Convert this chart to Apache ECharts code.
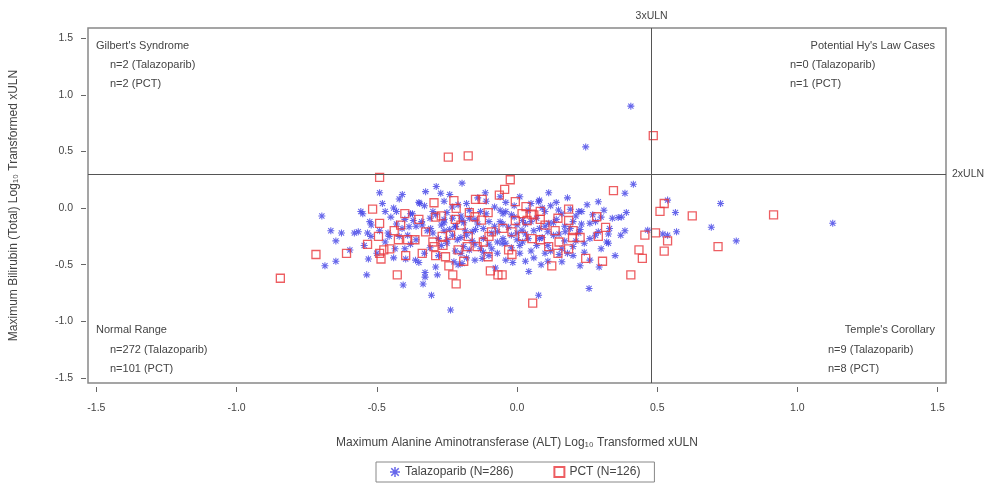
<!DOCTYPE html>
<html>
<head>
<meta charset="utf-8">
<script src="https://cdn.jsdelivr.net/npm/echarts@6/dist/echarts.min.js"></script>
<style>html,body{margin:0;padding:0;background:#fff;}#c{width:996px;height:484px;}</style>
</head>
<body>
<div id="c"></div>
<script>
const xTicks = [-1.5, -1.0, -0.5, 0.0, 0.5, 1.0, 1.5];
const yTicks = [-1.5, -1.0, -0.5, 0.0, 0.5, 1.0, 1.5];
const refX = 0.477;  // 3xULN
const refY = 0.301;  // 2xULN
const seriesNames = ['Talazoparib (N=286)', 'PCT (N=126)'];

const talazoparib = [
  [-0.696,-0.07],[-0.664,-0.20],[-0.626,-0.22],[-0.646,-0.29],[-0.646,-0.47],[-0.685,-0.51],[-0.596,-0.37],[-0.536,-0.59],
  [-0.557,-0.03],[-0.525,-0.12],[-0.566,-0.21],[-0.533,-0.22],[-0.521,-0.25],[-0.545,-0.33],[-0.49,0.135],[-0.49,-0.20],
  [-0.196,0.22],[-0.288,0.19],[-0.326,0.145],[-0.409,0.12],[-0.272,0.13],[-0.113,0.135],[-0.347,0.04],[-0.231,0.01],
  [-0.47,-0.03],[-0.43,-0.03],[-0.373,-0.05],[-0.06,-0.02],[-0.196,-0.106],[-0.26,-0.13],[-0.385,-0.165],[-0.338,-0.15],
  [-0.308,-0.18],[-0.219,-0.165],[-0.148,-0.19],[-0.184,-0.20],[-0.456,-0.25],[-0.42,-0.25],[-0.249,-0.28],[-0.213,-0.28],
  [-0.435,-0.36],[-0.17,-0.37],[-0.362,-0.46],[-0.397,-0.45],[-0.225,-0.475],[-0.124,-0.445],[-0.328,-0.57],[-0.328,-0.61],
  [-0.284,-0.59],[-0.406,-0.68],[-0.335,-0.67],[-0.305,-0.77],[-0.237,-0.90],[-0.196,-0.49],[-0.077,-0.53],
  [0.245,0.54],[0.113,0.135],[0.29,0.056],[0.077,0.056],[0.148,-0.018],[0.231,-0.03],[-0.04,-0.03],[0.361,-0.083],
  [0.26,-0.135],[0.113,-0.135],[0.225,-0.19],[0.018,-0.195],[0.172,-0.21],[0.326,-0.23],[0.326,-0.31],[0.0,-0.28],
  [-0.053,-0.31],[0.10,-0.40],[0.2,-0.42],[0.03,-0.47],[-0.015,-0.48],[0.16,-0.475],[0.086,-0.50],[0.225,-0.51],
  [0.293,-0.52],[0.042,-0.56],[0.257,-0.71],[0.077,-0.77],
  [0.406,0.90],[0.415,0.21],[0.385,0.13],[0.537,0.07],[0.726,0.04],[0.565,-0.04],[0.373,-0.08],[0.693,-0.17],
  [0.385,-0.20],[0.466,-0.195],[0.569,-0.21],[0.537,-0.24],[0.782,-0.29],[1.126,-0.135],[0.52,-0.23],
  [-0.45,-0.08],[-0.41,-0.18],[-0.38,-0.05],[-0.36,-0.28],[-0.34,-0.12],[-0.33,0.02],[-0.31,-0.35],[-0.30,-0.22],
  [-0.29,-0.06],[-0.28,-0.42],[-0.27,-0.15],[-0.26,0.06],[-0.25,-0.31],[-0.24,-0.19],[-0.23,-0.09],[-0.22,-0.38],
  [-0.21,0.03],[-0.20,-0.26],[-0.19,-0.13],[-0.18,-0.44],[-0.17,-0.02],[-0.16,-0.29],[-0.15,-0.10],[-0.14,0.09],
  [-0.13,-0.36],[-0.12,-0.18],[-0.11,-0.05],[-0.10,-0.32],[-0.09,-0.22],[-0.08,0.01],[-0.07,-0.40],[-0.06,-0.12],
  [-0.05,-0.27],[-0.04,0.05],[-0.03,-0.17],[-0.02,-0.35],[-0.01,-0.08],[0.00,-0.22],[0.01,0.10],[0.02,-0.30],
  [0.03,-0.14],[0.04,-0.02],[0.05,-0.38],[0.06,-0.20],[0.07,-0.09],[0.08,0.07],[0.09,-0.26],[0.10,-0.16],
  [0.11,-0.33],[0.12,0.02],[0.13,-0.24],[0.14,-0.10],[0.15,-0.41],[0.16,-0.05],[0.17,-0.29],[0.18,0.09],
  [0.19,-0.18],[0.20,-0.34],[0.21,-0.07],[0.22,-0.22],[0.24,-0.39],[0.25,0.03],[0.26,-0.27],[0.28,-0.12],
  [0.30,-0.36],[0.31,-0.02],[0.33,-0.18],[0.35,-0.42],
  [-0.52,-0.15],[-0.50,-0.40],[-0.48,0.04],[-0.47,-0.30],[-0.44,-0.44],[-0.43,-0.14],[-0.42,0.08],[-0.40,-0.36],
  [-0.39,-0.24],[-0.37,-0.11],[-0.35,0.05],[-0.35,-0.48],[-0.32,-0.20],[-0.30,-0.03],[-0.29,-0.52],[-0.27,-0.33],
  [-0.26,-0.10],[-0.24,0.12],[-0.23,-0.24],[-0.21,-0.50],[-0.20,-0.07],[-0.19,-0.34],[-0.18,0.04],[-0.16,-0.21],
  [-0.15,-0.46],[-0.14,-0.14],[-0.12,-0.27],[-0.11,0.06],[-0.10,-0.42],[-0.08,-0.16],[-0.07,-0.30],[-0.06,0.10],
  [-0.05,-0.05],[-0.04,-0.46],[-0.02,-0.24],[-0.01,0.02],[0.01,-0.40],[0.02,-0.11],[0.04,-0.27],[0.05,0.04],
  [0.07,-0.33],[0.08,-0.18],[0.10,-0.03],[0.11,-0.47],[0.13,-0.13],[0.14,0.05],[0.16,-0.36],[0.17,-0.16],
  [0.19,-0.01],[0.21,-0.29],[0.23,-0.14],[0.26,-0.46],[0.27,-0.06],[0.29,-0.21],[0.32,-0.30],[0.34,-0.09],
  [0.37,-0.24],[0.39,-0.04],
  [-0.58,-0.22],[-0.55,-0.05],[-0.53,-0.45],[-0.46,-0.22],[-0.44,0.00],[-0.40,-0.10],[-0.38,-0.32],[-0.36,-0.16],
  [-0.33,-0.40],[-0.31,-0.09],[-0.28,-0.27],[-0.26,-0.20],[-0.25,-0.04],[-0.22,-0.16],[-0.20,-0.40],[-0.18,-0.24],
  [-0.17,-0.09],[-0.15,-0.32],[-0.13,-0.03],[-0.12,-0.39],[-0.10,-0.12],[-0.09,-0.36],[-0.07,-0.21],[-0.05,-0.14],
  [-0.04,-0.31],[-0.02,-0.06],[0.00,-0.15],[0.01,-0.33],[0.03,-0.23],[0.05,-0.12],[0.06,-0.44],[0.08,-0.27],
  [0.09,0.00],[0.11,-0.21],[0.12,-0.38],[0.15,-0.23],[0.18,-0.40],[0.20,-0.12],[0.22,-0.03],[0.24,-0.31],
  [0.28,-0.24],[0.30,-0.08]
];

const pct = [
  [-0.844,-0.62],[-0.717,-0.41],[-0.608,-0.40],[-0.515,-0.01],[-0.494,-0.25],[-0.533,-0.32],[-0.49,0.27],[-0.49,-0.135],
  [-0.49,-0.40],[-0.485,-0.45],
  [-0.245,0.45],[-0.174,0.46],[-0.148,0.077],[-0.124,0.077],[-0.063,0.115],[-0.296,0.047],[-0.225,0.065],[-0.217,-0.003],
  [-0.17,-0.04],[-0.103,-0.04],[-0.29,-0.08],[-0.27,-0.07],[-0.15,-0.077],[-0.127,-0.106],[-0.415,-0.15],[-0.438,-0.20],
  [-0.326,-0.21],[-0.091,-0.21],[-0.10,-0.25],[-0.174,-0.25],[-0.39,-0.28],[-0.364,-0.28],[-0.423,-0.28],[-0.267,-0.25],
  [-0.237,-0.24],[-0.454,-0.36],[-0.475,-0.37],[-0.296,-0.34],[-0.264,-0.33],[-0.178,-0.34],[-0.142,-0.34],[-0.21,-0.37],
  [-0.338,-0.40],[-0.397,-0.42],[-0.29,-0.42],[-0.255,-0.43],[-0.19,-0.47],[-0.103,-0.43],[-0.243,-0.51],[-0.427,-0.59],
  [-0.095,-0.555],[-0.068,-0.59],[-0.229,-0.59],[-0.217,-0.67],
  [-0.024,0.25],[-0.044,0.165],[0.344,0.153],[-0.006,0.056],[0.032,0.012],[0.184,-0.01],[0.083,-0.03],[0.018,-0.05],
  [0.051,-0.053],[0.284,-0.077],[0.146,-0.09],[0.184,-0.11],[-0.006,-0.11],[0.036,-0.11],[0.083,-0.10],[0.316,-0.17],
  [0.136,-0.20],[-0.018,-0.21],[0.29,-0.25],[0.198,-0.26],[0.225,-0.26],[0.053,-0.27],[0.083,-0.28],[0.113,-0.34],
  [0.184,-0.36],[-0.03,-0.37],[-0.018,-0.41],[0.146,-0.40],[0.245,-0.445],[0.305,-0.47],[0.124,-0.51],[-0.053,-0.59],
  [0.056,-0.84],
  [0.486,0.64],[0.525,0.04],[0.51,-0.03],[0.625,-0.07],[0.456,-0.24],[0.494,-0.22],[0.537,-0.29],[0.717,-0.34],
  [0.435,-0.37],[0.525,-0.38],[0.447,-0.445],[0.406,-0.59],[0.915,-0.06],
  [-0.35,-0.10],[-0.20,-0.15],[-0.05,-0.18],[0.02,-0.25],[0.10,-0.15],[-0.12,-0.30],[-0.30,-0.30],[0.20,-0.20],
  [-0.40,-0.05],[0.06,-0.06],[-0.22,-0.10],[0.15,-0.30]
];

const FONT = '"Liberation Sans", Arial, sans-serif';
const TXT = '#444';
const asterisk = 'path://M8.5,0L11.5,0L11.5,20L8.5,20Z M0,8.5L20,8.5L20,11.5L0,11.5Z M1.5,3.6L3.6,1.5L18.5,16.4L16.4,18.5Z M16.4,1.5L18.5,3.6L3.6,18.5L1.5,16.4Z';

const chart = echarts.init(document.getElementById('c'), null, {renderer: 'canvas'});

function txt(left, top, text) {
  return {type: 'text', left: left, top: top, style: {text: text, fill: TXT, font: '11px ' + FONT}};
}
function txtR(right, top, text) {
  return {type: 'text', right: right, top: top, style: {text: text, fill: TXT, font: '11px ' + FONT}};
}

chart.setOption({
  animation: false,
  backgroundColor: '#fff',
  grid: {left: 86, right: 50, top: 28, bottom: 101, show: true, borderColor: '#888', borderWidth: 1.5, backgroundColor: 'transparent'},
  xAxis: {
    type: 'value', min: -1.53, max: 1.53, offset: 4, position: 'bottom',
    name: 'Maximum Alanine Aminotransferase (ALT) Log\u2081\u2080 Transformed xULN',
    nameLocation: 'middle', nameGap: 50,
    nameTextStyle: {fontFamily: FONT, fontSize: 12, color: TXT},
    axisLine: {show: false, onZero: false},
    splitLine: {show: false},
    axisTick: {show: true, length: 5, customValues: xTicks, lineStyle: {color: '#666'}},
    axisLabel: {customValues: xTicks, margin: 16, fontFamily: FONT, fontSize: 10.5, color: TXT,
      formatter: v => v.toFixed(1)}
  },
  yAxis: {
    type: 'value', min: -1.545, max: 1.59, offset: 2, position: 'left',
    name: 'Maximum Bilirubin (Total) Log\u2081\u2080 Transformed xULN',
    nameLocation: 'middle', nameGap: 66, nameRotate: 90,
    nameTextStyle: {fontFamily: FONT, fontSize: 12, color: TXT},
    axisLine: {show: false, onZero: false},
    splitLine: {show: false},
    axisTick: {show: true, length: 5, customValues: yTicks, lineStyle: {color: '#666'}},
    axisLabel: {customValues: yTicks, margin: 13, fontFamily: FONT, fontSize: 10.5, color: TXT,
      formatter: v => v.toFixed(1)}
  },
  legend: {
    bottom: 2, left: 376,
    data: seriesNames,
    borderColor: '#888', borderWidth: 1, padding: [4, 14], itemGap: 40,
    itemWidth: 10, itemHeight: 10,
    textStyle: {fontFamily: FONT, fontSize: 12, color: TXT}
  },
  series: [
    {
      name: seriesNames[0], type: 'scatter', data: talazoparib,
      symbol: asterisk, symbolSize: 7,
      itemStyle: {color: '#4040e6', opacity: 0.8},
      z: 3,
      markLine: {
        silent: true, symbol: 'none', animation: false,
        lineStyle: {color: '#555', type: 'solid', width: 1},
        label: {fontFamily: FONT, fontSize: 10.5, color: TXT},
        data: [
          {xAxis: refX, label: {formatter: '3xULN', position: 'end', distance: 6}},
          {yAxis: refY, label: {formatter: '2xULN', position: 'end', distance: 6}}
        ]
      }
    },
    {
      name: seriesNames[1], type: 'scatter', data: pct,
      symbol: 'rect', symbolSize: 8,
      itemStyle: {color: 'rgba(255,255,255,0)', borderColor: '#e8363b', borderWidth: 1.3},
      z: 4
    }
  ],
  graphic: [
    txt(96, 40, "Gilbert's Syndrome"),
    txt(110, 59, 'n=2 (Talazoparib)'),
    txt(110, 78, 'n=2 (PCT)'),
    txtR(61, 40, "Potential Hy's Law Cases"),
    txt(790, 59, 'n=0 (Talazoparib)'),
    txt(790, 78, 'n=1 (PCT)'),
    txt(96, 324, 'Normal Range'),
    txt(110, 344, 'n=272 (Talazoparib)'),
    txt(110, 363, 'n=101 (PCT)'),
    txtR(61, 324, "Temple's Corollary"),
    txt(828, 344, 'n=9 (Talazoparib)'),
    txt(828, 363, 'n=8 (PCT)')
  ]
});
</script>
</body>
</html>
